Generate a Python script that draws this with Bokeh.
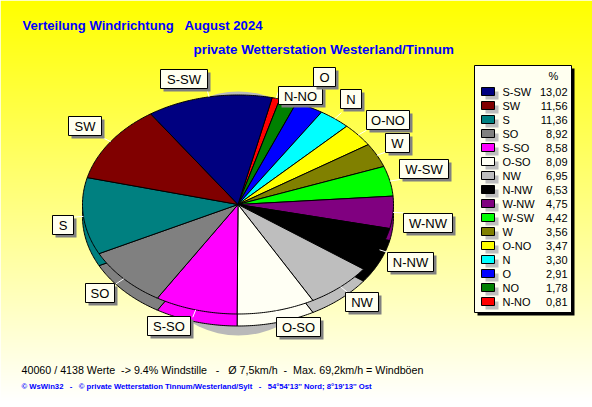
import numpy as np
from bokeh.plotting import figure
from bokeh.embed import file_html
from bokeh.resources import INLINE
from bokeh.core.properties import value

NB = "\u00a0"
# ---- data (legend order) ----
directions = ["S-SW","SW","S","SO","S-SO","O-SO","NW","N-NW","W-NW","W-SW","W","O-NO","N","O","NO","N-NO"]
percents = [13.02,11.56,11.36,8.92,8.58,8.09,6.95,6.53,4.75,4.42,3.56,3.47,3.30,2.91,1.78,0.81]
percent_labels = ["13,02","11,56","11,36","8,92","8,58","8,09","6,95","6,53","4,75","4,42","3,56","3,47","3,30","2,91","1,78","0,81"]
colors = ["#000080","#800000","#008080","#808080","#ff00ff","#fffff4","#bebebe","#000000",
          "#800080","#00ff00","#808000","#ffff00","#00ffff","#0000ff","#008000","#ff0000"]
title1 = "Verteilung Windrichtung   August 2024".replace(" ", NB)
title2 = "private Wetterstation Westerland/Tinnum".replace(" ", NB)
footer1 = "40060 / 4138 Werte  -> 9.4% Windstille   -   Ø 7,5km/h  -  Max. 69,2km/h = Windböen".replace(" ", NB)
footer2 = "© WsWin32   -   © private Wetterstation Tinnum/Westerland/Sylt   -   54°54'13'' Nord; 8°19'13'' Ost".replace(" ", NB)

# ---- layout (page pixel coordinates of the label boxes: left, right, top, bottom) ----
label_boxes = {
    "S-SW": (160,207,69,88), "SW": (68,101,116,135), "N-NO": (278,322,86,104), "O": (313,335,67,86),
    "N": (340,361,89,108), "O-NO": (366,409,110,129), "W": (385,409,133,152), "W-SW": (399,448,159,178),
    "W-NW": (403,452,213,232), "N-NW": (387,433,252,271), "NW": (345,378,292,311), "O-SO": (276,320,317,336),
    "S-SO": (147,190,316,335), "SO": (85,114,283,302), "S": (52,73,215,234),
}
CX, CY, A, B, DEPTH = 237.5, 204.0, 155.5, 109.5, 12
START = np.radians(12.7)
FONT = value("Liberation Sans")
INK = "#000000"
PAPER = "#fffff0"

p = figure(width=592, height=407, x_range=(0, 592), y_range=(407, 0),
           output_backend="svg", toolbar_location=None, min_border=0)
p.axis.visible = False
p.grid.visible = False
p.outline_line_color = None

# background gradient: yellow on top to white at the bottom
rows = np.arange(407)
blue = np.clip(rows / 400 * 255, 0, 255).astype(np.uint32)
img = (np.uint32(255) << 24 | blue[:, None] << 16 | np.uint32(255) << 8 | np.uint32(255)).astype(np.uint32)
p.image_rgba(image=[img], x=0, y=0, dw=592, dh=407)

# pie shadow
p.ellipse(x=238, y=213, width=210, height=244, fill_color="#b9b9b9", line_color=None)

# slices run clockwise from the smallest to the largest
order = list(range(len(percents)))[::-1]
fracs = np.array([percents[i] for i in order]) / sum(percents)
edges = START + 2 * np.pi * np.concatenate([[0], np.cumsum(fracs)])

def wedge(t0, t1, dy=0.0):
    t = np.linspace(t0, t1, max(int((t1 - t0) * 80), 4))
    xs = np.concatenate([[CX], CX + A * np.sin(t)])
    ys = np.concatenate([[CY + dy], CY + dy - B * np.cos(t)])
    return xs.tolist(), ys.tolist()

side = [wedge(edges[k], edges[k + 1], DEPTH) for k in range(len(order))]
top = [wedge(edges[k], edges[k + 1]) for k in range(len(order))]
cols = [colors[i] for i in order]
p.patches([s[0] for s in side], [s[1] for s in side], fill_color=cols, fill_alpha=1.0, line_color=INK, line_width=1)
p.patches([s[0] for s in top], [s[1] for s in top], fill_color=cols, fill_alpha=1.0, line_color=INK, line_width=1)

# leader lines from the rim at each slice's middle angle
mids = {directions[i]: (edges[k] + edges[k + 1]) / 2 for k, i in enumerate(order)}
lx0, ly0, lx1, ly1 = [], [], [], []
for name in label_boxes:
    m = mids[name]
    lx0.append(CX + A * np.sin(m)); ly0.append(CY - B * np.cos(m))
    lx1.append(CX + 1.07 * A * np.sin(m)); ly1.append(CY - 1.07 * B * np.cos(m))
p.segment(lx0, ly0, lx1, ly1, line_color="#ffffff", line_width=1)

# label boxes
names = list(label_boxes)
for n in names:
    l, r, t, b = label_boxes[n]
    p.quad(left=l + 3, right=r + 3, top=t + 3, bottom=b + 3, fill_color="#808080", line_color=None)
    p.quad(left=l, right=r, top=t, bottom=b, fill_color=PAPER, line_color=INK, line_width=1)
    p.text(x=[(l + r) / 2], y=[(t + b) / 2 + 0.5], text=[n], text_font=FONT, text_font_size="13px",
           text_align="center", text_baseline="middle", text_color=INK)

# legend
p.quad(left=477, right=574, top=68, bottom=315, fill_color=INK, line_color=None)
p.quad(left=474, right=571, top=65, bottom=312, fill_color=PAPER, line_color=INK, line_width=1)
p.text(x=[553], y=[75], text=["%"], text_font=FONT, text_font_size="11px",
       text_align="center", text_baseline="middle", text_color=INK)
row_y = [91 + 14 * i for i in range(len(directions))]
p.quad(left=[485] * 16, right=[498] * 16, top=[y - 0 for y in row_y], bottom=[y + 8 for y in row_y],
       fill_color="#bebebe", line_color=None)
p.quad(left=[481] * 16, right=[494] * 16, top=[y - 4 for y in row_y], bottom=[y + 4 for y in row_y],
       fill_color=colors, line_color=INK, line_width=1)
p.text(x=[502] * 16, y=row_y, text=directions, text_font=FONT, text_font_size="11px",
       text_align="left", text_baseline="middle", text_color=INK)
p.text(x=[567] * 16, y=row_y, text=percent_labels, text_font=FONT, text_font_size="11px",
       text_align="right", text_baseline="middle", text_color=INK)

# titles and footers
p.text(x=[22], y=[25], text=[title1], text_font=FONT, text_font_size="13.1px", text_font_style="bold",
       text_color="#0000ff", text_baseline="middle")
p.text(x=[193], y=[49], text=[title2], text_font=FONT, text_font_size="13.4px", text_font_style="bold",
       text_color="#0000ff", text_baseline="middle")
p.text(x=[21], y=[369], text=[footer1], text_font=FONT, text_font_size="10.7px",
       text_color=INK, text_baseline="middle")
p.text(x=[21], y=[386], text=[footer2], text_font=FONT, text_font_size="7.7px", text_font_style="bold",
       text_color="#0000ff", text_baseline="middle")

open("out.html", "w").write(file_html(p, INLINE))
